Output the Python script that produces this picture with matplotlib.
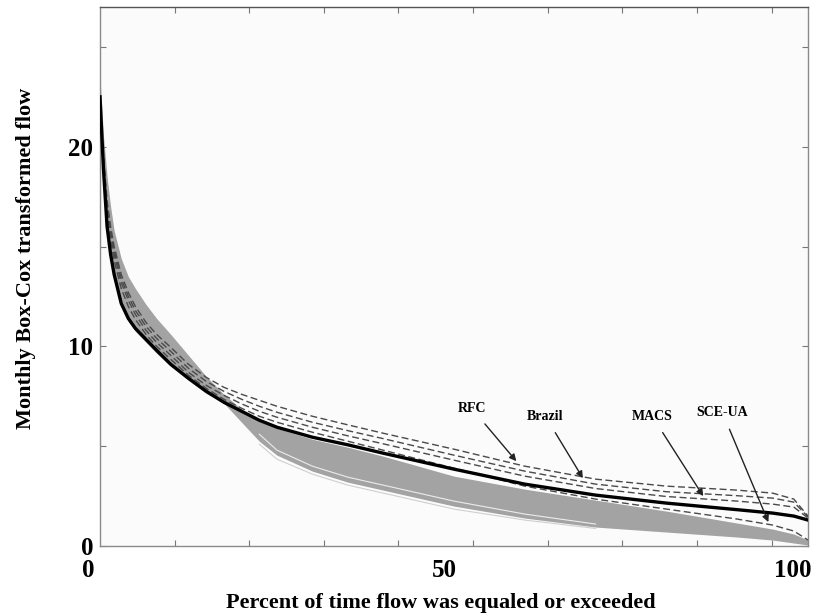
import numpy as np
import matplotlib
matplotlib.use("Agg")
import matplotlib.pyplot as plt

plt.rcParams["font.family"] = ["Liberation Serif", "DejaVu Serif"]
plt.rcParams["font.weight"] = "bold"

# percent of time flow was equaled or exceeded
pct = [0, 0.5, 1, 1.5, 2, 3, 4, 5, 6.5, 8, 10, 12.5, 15, 17.5, 20, 22.5, 25,
       30, 35, 40, 50, 60, 70, 80, 90, 95, 98, 100]

observed = [22.5, 18.8, 16.0, 14.6, 13.6, 12.15, 11.4, 10.9, 10.35, 9.8, 9.1,
            8.4, 7.75, 7.2, 6.75, 6.3, 5.95, 5.45, 5.07, 4.65, 3.85, 3.1,
            2.55, 2.15, 1.82, 1.65, 1.5, 1.3]

rfc = [22.0, 19.5, 17.3, 16.0, 15.0, 13.6, 12.7, 12.0, 11.2, 10.6, 9.95, 9.1,
       8.45, 7.95, 7.6, 7.3, 7.0, 6.5, 6.07, 5.65, 4.85, 4.0, 3.35, 3.0, 2.8,
       2.65, 2.35, 1.5]
brazil = [22.0, 19.3, 17.1, 15.8, 14.8, 13.4, 12.5, 11.8, 11.0, 10.4, 9.75,
          8.9, 8.25, 7.75, 7.35, 7.0, 6.7, 6.2, 5.78, 5.38, 4.55, 3.75, 3.1,
          2.72, 2.52, 2.4, 2.2, 1.45]
macs = [22.0, 19.1, 16.9, 15.6, 14.6, 13.2, 12.3, 11.6, 10.8, 10.2, 9.55, 8.7,
        8.05, 7.55, 7.12, 6.75, 6.45, 5.95, 5.52, 5.12, 4.3, 3.5, 2.88, 2.48,
        2.25, 2.1, 1.95, 1.4]
sceua = [22.0, 18.9, 16.6, 15.3, 14.3, 12.9, 12.0, 11.35, 10.6, 10.0, 9.35,
         8.55, 7.9, 7.35, 6.9, 6.5, 6.2, 5.7, 5.25, 4.8, 3.9, 3.0, 2.35, 1.85,
         1.35, 1.05, 0.75, 0.3]

# envelope of the gray simulation traces
band_upper = [23.5, 20.5, 18.5, 17.0, 15.8, 14.4, 13.5, 12.9, 12.1, 11.4, 10.6,
              9.55, 8.5, 7.6, 6.85, 6.25, 5.9, 5.35, 4.95, 4.5, 3.5, 2.85, 2.3,
              1.75, 1.15, 0.85, 0.6, 0.3]
band_lower = [22.3, 18.6, 15.8, 14.4, 13.4, 12.0, 11.25, 10.75, 10.2, 9.65, 9.0,
              8.3, 7.65, 7.15, 6.2, 5.25, 4.55, 3.75, 3.2, 2.8, 2.0, 1.4, 0.95,
              0.7, 0.45, 0.3, 0.15, 0.05]

# pale traces at the bottom of the band
pale_pct = [22.5, 25, 30, 35, 40, 50, 60, 70]
pale_1 = [5.6, 4.8, 4.0, 3.45, 3.05, 2.25, 1.6, 1.1]
pale_2 = [5.1, 4.35, 3.6, 3.05, 2.65, 1.85, 1.3, 0.88]

labels = ["RFC", "Brazil", "MACS", "SCE-UA"]
label_xy = [(52.5, 6.9), (62.9, 6.5), (78.0, 6.5), (87.9, 6.7)]
arrow_tip = [(58.8, 4.25), (68.2, 3.4), (85.2, 2.5), (94.4, 1.2)]

fig = plt.figure(figsize=(8.17, 6.16), dpi=100, facecolor="white")
ax = fig.add_axes([0.1224, 0.1136, 0.8666, 0.875])
ax.set_facecolor("#fbfbfb")

ax.fill_between(pct, band_lower, band_upper, color="#a3a3a3", lw=0, zorder=1)
ax.plot(pale_pct, pale_1, color="#ececec", lw=0.8, zorder=2)
ax.plot(pale_pct, pale_2, color="#cfcfcf", lw=0.8, zorder=2)

for series in (rfc, brazil, macs, sceua):
    ax.plot(pct, series, color="#4a4a4a", lw=1.0, dashes=(5, 2.5), zorder=3)

ax.plot(pct, observed, color="black", lw=2.4, zorder=4)

for name, (tx, ty), (ax_, ay) in zip(labels, label_xy, arrow_tip):
    ax.annotate(name, xy=(ax_, ay), xytext=(tx, ty), ha="center", va="center",
                fontsize=10, fontweight="bold",
                arrowprops=dict(arrowstyle="-|>", color="#222222", lw=1.0,
                                mutation_scale=10, shrinkA=6, shrinkB=0),
                zorder=5)

ax.set_xlim(0, 100)
ax.set_ylim(0, 27)

ax.set_xticks(np.arange(1, 10) * 10.54)
ax.set_xticklabels([])
ax.set_yticks([0, 5, 10, 15, 20, 25])
ax.set_yticklabels(["0", "", "10", "", "20", ""], fontsize=18, fontweight="bold")
ax.tick_params(axis="both", direction="in", length=4, color="#777777",
               top=True, right=True, pad=5)
for sp in ax.spines.values():
    sp.set_color("#8a8a8a")
    sp.set_linewidth(1.0)
ax.spines["top"].set_color("#555555")

for xv, s in [(-1.7, "0"), (48.7, "50"), (97.9, "100")]:
    ax.text(xv, -0.045, s, transform=ax.get_xaxis_transform(), ha="center",
            va="center", fontsize=18, fontweight="bold", clip_on=False)

fig.text(0.54, 0.021, "Percent of time flow was equaled or exceeded",
         ha="center", va="center", fontsize=16, fontweight="bold")
fig.text(0.032, 0.58, "Monthly Box-Cox transformed flow", rotation=90,
         ha="center", va="center", fontsize=16, fontweight="bold")

fig.savefig("out.png", dpi=100, facecolor="white")
